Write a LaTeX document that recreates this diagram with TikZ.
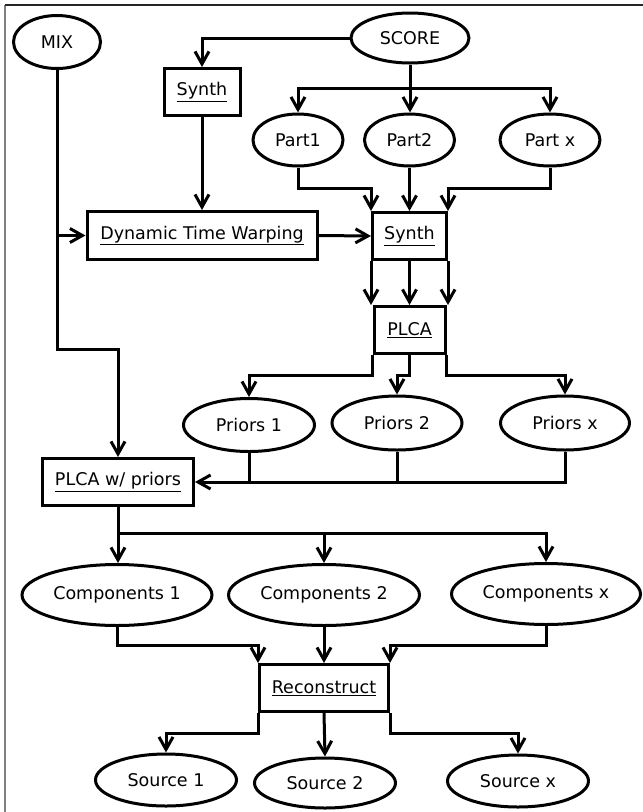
\documentclass[tikz,border=0pt]{standalone}
\usepackage{fontspec}
\setmainfont{DejaVu Sans}
\usetikzlibrary{arrows.meta,shapes.geometric}
\begin{document}
\begin{tikzpicture}[x=1pt,y=-1pt,
  every node/.style={font=\fontsize{17.5pt}{20pt}\selectfont, line width=3pt, inner sep=0pt},
  oval/.style={draw, ellipse, minimum width=#1},
  oval/.default=90pt,
  procbox/.style={draw, rectangle, minimum width=#1, minimum height=47pt},
  arr/.style={line width=3pt, -{Straight Barb[length=12.5pt,width=14pt]}},
  wire/.style={line width=3pt}]
\useasboundingbox (0,0) rectangle (643,812);
\draw[gray, line width=1.5pt] (5,812) -- (5,5);
\draw[black!85, line width=1.5pt] (5,5) -- (643,5);

\node[oval=87pt, minimum height=53pt] (mix) at (57,42) {MIX};
\node[oval=118pt, minimum height=50pt] (score) at (410,38) {SCORE};
\node[procbox=76pt] (synth1) at (202,92) {\underline{Synth}};
\node[oval=90pt, minimum height=52pt] (part1) at (298,140) {Part1};
\node[oval=90pt, minimum height=52pt] (part2) at (409.5,140) {Part2};
\node[oval=100pt, minimum height=52pt] (partx) at (550,140) {Part x};
\node[procbox=230pt, minimum height=48pt] (dtw) at (202,235.5) {\underline{Dynamic Time Warping}};
\node[procbox=74pt] (synth2) at (409.5,236) {\underline{Synth}};
\node[procbox=71pt] (plca) at (409.5,330) {\underline{PLCA}};
\node[oval=131pt, minimum height=53pt] (priors1) at (249,425) {Priors 1};
\node[oval=130pt, minimum height=54pt] (priors2) at (397,423) {Priors 2};
\node[oval=129pt, minimum height=54pt] (priorsx) at (565,423) {Priors x};
\node[procbox=151pt] (plcap) at (118,482) {\underline{PLCA w/ priors}};
\node[oval=190pt, minimum height=61pt] (comp1) at (117,595) {Components 1};
\node[oval=191pt, minimum height=61pt] (comp2) at (324,595) {Components 2};
\node[oval=189pt, minimum height=61pt] (compx) at (546,594) {Components x};
\node[procbox=129pt] (recon) at (324,688) {\underline{Reconstruct}};
\node[oval=141pt, minimum height=52pt] (source1) at (166,780) {Source 1};
\node[oval=141pt, minimum height=50pt] (source2) at (325,783) {Source 2};
\node[oval=141pt, minimum height=52pt] (sourcex) at (518,781) {Source x};

\coordinate (sb) at (0,88);
\coordinate (pb) at (0,188);
\coordinate (mb) at (0,349);
\coordinate (qb) at (0,375);
\coordinate (cb) at (0,533);
\coordinate (rb) at (0,645);
\coordinate (ob) at (0,733);

% SCORE
\draw[arr] (score.west) -| (synth1.north);
\draw[arr] (score.south) -- (score.south |- part2.north);
\draw[arr] (score.south |- sb) -| (part1.north);
\draw[arr] (score.south |- sb) -| (partx.north);
% MIX
\draw[arr] (mix.south) |- (dtw.west);
\draw[arr] (mix.south) -- (mix.south |- mb) -| (plcap.north);
% Synth1 -> DTW -> Synth2
\draw[arr] (synth1.south) -- (dtw.north);
\draw[arr] (dtw.east) -- (synth2.west);
% Parts -> Synth2
\draw[arr] (part1.south) -- (part1.south |- pb) -| (synth2.north west);
\draw[arr] (part2.south) -- (synth2.north);
\draw[arr] (partx.south) -- (partx.south |- pb) -| (synth2.north east);
% Synth2 -> PLCA
\draw[arr] (synth2.south west) -- (synth2.south west |- plca.north);
\draw[arr] (synth2.south) -- (plca.north);
\draw[arr] (synth2.south east) -- (synth2.south east |- plca.north);
% PLCA -> priors
\draw[arr] (plca.south west) -- (plca.south west |- qb) -| (priors1.north);
\draw[arr] (plca.south) -- (plca.south |- qb) -| (priors2.north);
\draw[arr] (plca.south east) -- (plca.south east |- qb) -| (priorsx.north);
% priors -> PLCA w/ priors
\draw[wire] (priors1.south) -- (priors1.south |- plcap.east);
\draw[wire] (priors2.south) -- (priors2.south |- plcap.east);
\draw[arr] (priorsx.south) |- (plcap.east);
% PLCA w/ priors -> components
\draw[arr] (plcap.south) -- (plcap.south |- comp1.north);
\draw[arr] (plcap.south |- cb) -| (comp2.north);
\draw[arr] (plcap.south |- cb) -| (compx.north);
% components -> reconstruct
\draw[arr] (comp1.south) -- (comp1.south |- rb) -| (recon.north west);
\draw[arr] (comp2.south) -- (recon.north);
\draw[arr] (compx.south) -- (compx.south |- rb) -| (recon.north east);
% reconstruct -> sources
\draw[arr] (recon.south west) -- (recon.south west |- ob) -| (source1.north);
\draw[arr] (recon.south) -- (source2.north);
\draw[arr] (recon.south east) -- (recon.south east |- ob) -| (sourcex.north);
\end{tikzpicture}
\end{document}
